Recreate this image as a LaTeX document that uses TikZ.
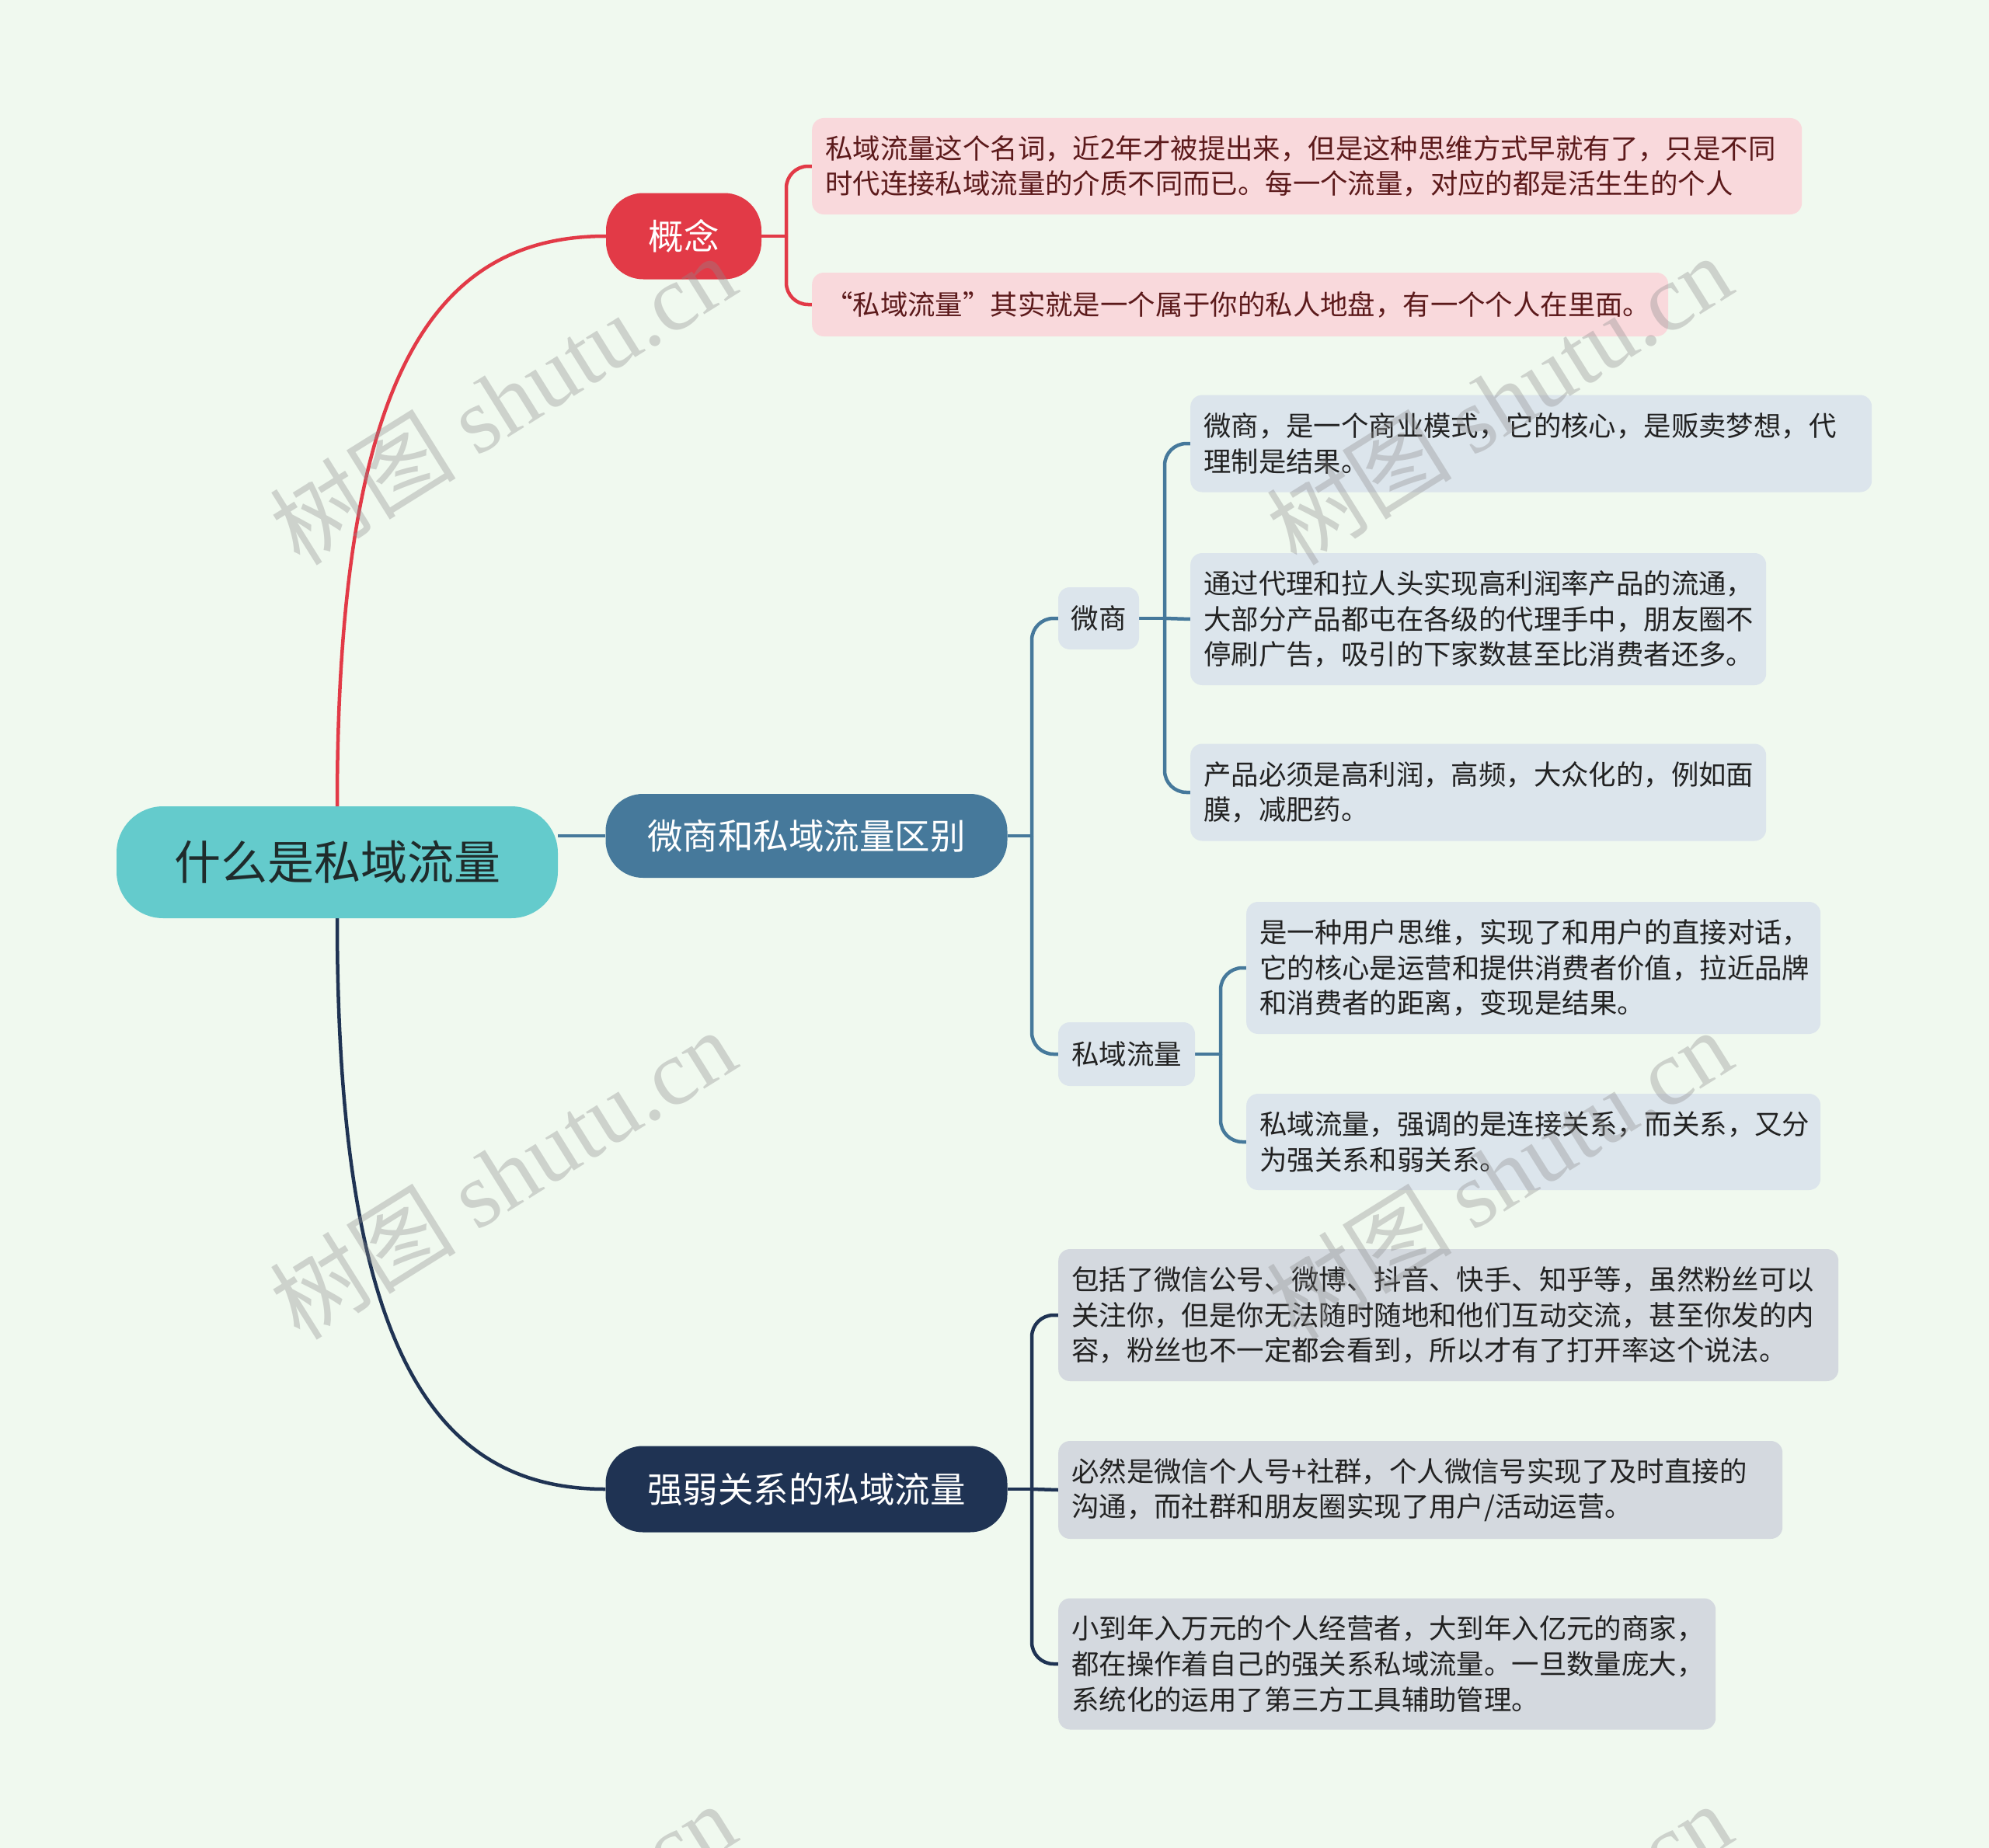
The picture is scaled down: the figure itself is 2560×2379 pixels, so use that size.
\documentclass[tikz,border=0pt]{standalone}
\usepackage{fontspec}
\setmainfont{Noto Sans CJK SC}
\newfontfamily\wmlatin{Liberation Serif}
\usepackage{tikz}
\usepackage{xcolor}
\usetikzlibrary{backgrounds}

\definecolor{bgcol}{HTML}{F0F9EF}
\definecolor{rootcol}{HTML}{64CBCC}
\definecolor{conceptred}{HTML}{E23A47}
\definecolor{diffblue}{HTML}{46799B}
\definecolor{strongnavy}{HTML}{1F3353}
\definecolor{pinkbox}{HTML}{F9D9DC}
\definecolor{pinktext}{HTML}{5C1A1B}
\definecolor{bluebox}{HTML}{DCE5EC}
\definecolor{navybox}{HTML}{D4D9DF}
\definecolor{darktext}{HTML}{222222}

\begin{document}
\begin{tikzpicture}[x=1pt, y=-1pt,
    rootbox/.style={rounded corners=60, fill=rootcol, inner sep=0,
      minimum width=568, minimum height=144, text=darktext!90!teal,
      font=\fontsize{60}{72}\selectfont},
    mainbox/.style={rounded corners=48, inner sep=0, text=white,
      font=\fontsize{45.5}{55}\selectfont},
    subbox/.style={rounded corners=15, fill=bluebox, inner sep=0, text=darktext,
      font=\fontsize{35.5}{44}\selectfont},
    detbox/.style={anchor=west, rounded corners=15, inner xsep=17, inner ysep=0,
      align=left, text=darktext, font=\fontsize{35.4}{45.7}\selectfont},
    redline/.style={draw=conceptred, line width=4.5},
    blueline/.style={draw=diffblue, line width=4.5},
    navyline/.style={draw=strongnavy, line width=4.5},
    wmark/.style={rotate=32, text=gray!90, opacity=0.35, font=\fontsize{120}{120}\selectfont}]
  \useasboundingbox (0,0) rectangle (2560,2379);

  % Root
  \node[rootbox] (root) at (434,1110) {什么是私域流量};

  % First level
  \node[mainbox, fill=conceptred, minimum width=200, minimum height=111] (concept) at (880,304) {概念};
  \node[mainbox, fill=diffblue, minimum width=517, minimum height=108] (diff) at (1038,1076) {微商和私域流量区别};
  \node[mainbox, fill=strongnavy, minimum width=517, minimum height=111] (strong) at (1038,1917) {强弱关系的私域流量};

  % Concept details
  \node[detbox, fill=pinkbox, text=pinktext, text width=1240, minimum height=124] (c1) at (1045,214)
    {私域流量这个名词，近2年才被提出来，但是这种思维方式早就有了，只是不同\\时代连接私域流量的介质不同而已。每一个流量，对应的都是活生生的个人};
  \node[detbox, fill=pinkbox, text=pinktext, text width=1068, minimum height=82] (c2) at (1045,392)
    {“私域流量”其实就是一个属于你的私人地盘，有一个个人在里面。};

  % Second level
  \node[subbox, minimum width=104, minimum height=80] (weishang) at (1414,796) {微商};
  \node[subbox, minimum width=176, minimum height=82] (private) at (1450,1357) {私域流量};

  % Weishang details
  \node[detbox, fill=bluebox, text width=843, minimum height=125] (w1) at (1532,571)
    {微商，是一个商业模式，它的核心，是贩卖梦想，代\\理制是结果。};
  \node[detbox, fill=bluebox, text width=707, minimum height=170] (w2) at (1532,797)
    {通过代理和拉人头实现高利润率产品的流通，\\大部分产品都屯在各级的代理手中，朋友圈不\\停刷广告，吸引的下家数甚至比消费者还多。};
  \node[detbox, fill=bluebox, text width=707, minimum height=125] (w3) at (1532,1020)
    {产品必须是高利润，高频，大众化的，例如面\\膜，减肥药。};

  % Private traffic details
  \node[detbox, fill=bluebox, text width=705, minimum height=170] (s1) at (1604,1246)
    {是一种用户思维，实现了和用户的直接对话，\\它的核心是运营和提供消费者价值，拉近品牌\\和消费者的距离，变现是结果。};
  \node[detbox, fill=bluebox, text width=705, minimum height=124] (s2) at (1604,1470)
    {私域流量，强调的是连接关系，而关系，又分\\为强关系和弱关系。};

  % Strong / weak details
  \node[detbox, fill=navybox, text width=970, minimum height=170] (r1) at (1362,1693)
    {包括了微信公号、微博、抖音、快手、知乎等，虽然粉丝可以\\关注你，但是你无法随时随地和他们互动交流，甚至你发的内\\容，粉丝也不一定都会看到，所以才有了打开率这个说法。};
  \node[detbox, fill=navybox, text width=898, minimum height=126] (r2) at (1362,1918)
    {必然是微信个人号+社群，个人微信号实现了及时直接的\\沟通，而社群和朋友圈实现了用户/活动运营。};
  \node[detbox, fill=navybox, text width=812, minimum height=169] (r3) at (1362,2142)
    {小到年入万元的个人经营者，大到年入亿元的商家，\\都在操作着自己的强关系私域流量。一旦数量庞大，\\系统化的运用了第三方工具辅助管理。};

  \begin{pgfonlayer}{background}
    \fill[bgcol] (0,0) rectangle (2560,2379);
    % Root connectors
    \draw[redline] (root.north) .. controls (434,480) and (560,304) .. (concept.west);
    \draw[blueline] (root.east |- diff.west) -- (diff.west);
    \draw[navyline] (root.south) .. controls (434,1740) and (560,1917) .. (strong.west);
    % Concept brackets
    \draw[redline] (concept.east) -- (1012,304);
    \draw[redline, rounded corners=28] (1012,304) |- (c1.west);
    \draw[redline, rounded corners=28] (1012,304) |- (c2.west);
    % Difference brackets
    \draw[blueline] (diff.east) -- (1328,1076);
    \draw[blueline, rounded corners=28] (1328,1076) |- (weishang.west);
    \draw[blueline, rounded corners=28] (1328,1076) |- (private.west);
    \draw[blueline] (weishang.east) -- (1499,796);
    \draw[blueline, rounded corners=28] (1499,796) |- (w1.west);
    \draw[blueline] (1499,796) -- (w2.west);
    \draw[blueline, rounded corners=28] (1499,796) |- (w3.west);
    \draw[blueline] (private.east) -- (1571,1357);
    \draw[blueline, rounded corners=28] (1571,1357) |- (s1.west);
    \draw[blueline, rounded corners=28] (1571,1357) |- (s2.west);
    % Strong / weak brackets
    \draw[navyline] (strong.east) -- (1328,1917);
    \draw[navyline, rounded corners=28] (1328,1917) |- (r1.west);
    \draw[navyline] (1328,1917) -- (r2.west);
    \draw[navyline, rounded corners=28] (1328,1917) |- (r3.west);
  \end{pgfonlayer}

  % Watermarks
  \begin{scope}
    \clip (0,0) rectangle (2560,2379);
    \foreach \wx in {647,1929} {
      \foreach \wy in {514,1511,2507} {
        \node[wmark] (wm-\wx-\wy) at (\wx,\wy) {树图 {\wmlatin shutu.cn}};
      }
    }
  \end{scope}
\end{tikzpicture}
\end{document}
